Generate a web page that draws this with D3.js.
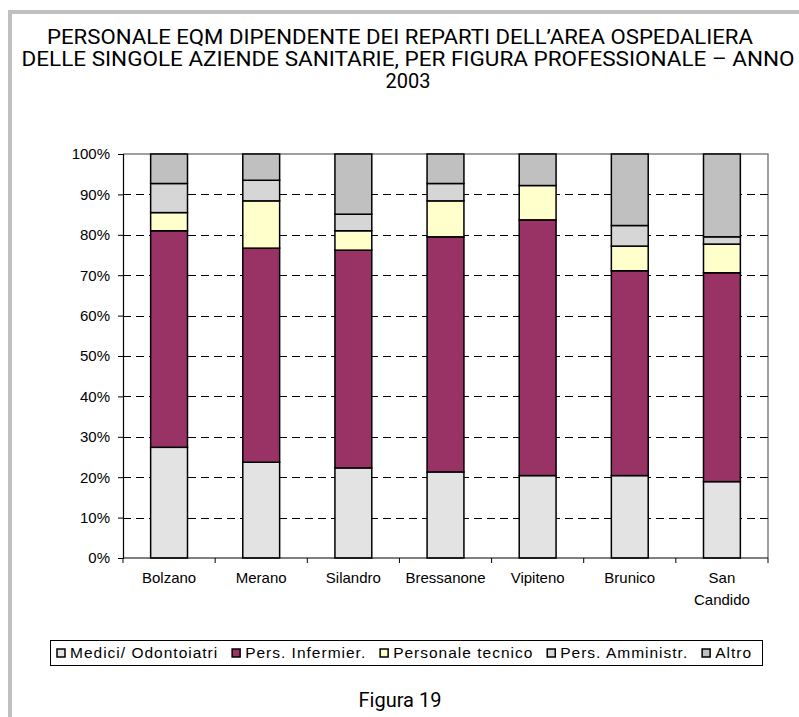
<!DOCTYPE html>
<html>
<head>
<meta charset="utf-8">
<script src="https://cdn.jsdelivr.net/npm/d3@7"></script>
<style>
body { margin: 0; background: #fff; }
svg { display: block; }
.tick-label { font-family: "Liberation Sans", Arial, sans-serif; font-size: 15px; fill: #000; }
.legend-label { font-family: "Liberation Sans", Arial, sans-serif; font-size: 15.5px; letter-spacing: 1px; fill: #000; }
.title { font-family: Roboto, "Liberation Sans", sans-serif; font-size: 20px; fill: #000; }
</style>
</head>
<body>
<svg id="chart" width="799" height="717"></svg>
<script>
// categories and series (share of total, %)
const aziende = ["Bolzano", "Merano", "Silandro", "Bressanone", "Vipiteno", "Brunico", "San Candido"];
const figure = ["Medici/ Odontoiatri", "Pers. Infermier.", "Personale tecnico", "Pers. Amministr.", "Altro"];
const medici      = [27.4, 23.7, 22.3, 21.3, 20.4, 20.4, 18.9];
const infermieri  = [53.6, 53.0, 53.9, 58.2, 63.3, 50.7, 51.7];
const tecnici     = [4.5, 11.7, 4.8, 8.9, 8.5, 6.1, 7.1];
const amministr   = [7.2, 5.1, 4.1, 4.3, 0.0, 5.1, 1.8];
const altro       = [7.3, 6.5, 14.9, 7.3, 7.8, 17.7, 20.5];
const yTicks = [0, 0.1, 0.2, 0.3, 0.4, 0.5, 0.6, 0.7, 0.8, 0.9, 1];
const colori = ["#e3e3e3", "#993366", "#ffffcc", "#d6d6d6", "#c0c0c0"];

const series = [medici, infermieri, tecnici, amministr, altro];
const rows = aziende.map((a, i) => {
  const r = { azienda: a };
  const tot = d3.sum(series, s => s[i]);
  figure.forEach((f, k) => r[f] = series[k][i] / tot);
  return r;
});

const svg = d3.select("#chart");

// outer frame (grey band top and left)
svg.append("rect").attr("x", 8).attr("y", 10).attr("width", 800).attr("height", 4).attr("fill", "#c0c0c0");
svg.append("rect").attr("x", 8).attr("y", 10).attr("width", 4).attr("height", 720).attr("fill", "#c0c0c0");

// title
const titolo = [
  ["PERSONALE EQM DIPENDENTE DEI REPARTI DELL\u2019AREA OSPEDALIERA", 400, 44, 706],
  ["DELLE SINGOLE AZIENDE SANITARIE, PER FIGURA PROFESSIONALE \u2013 ANNO", 408, 66, 773],
  ["2003", 408, 88, 0]
];
titolo.forEach(t => {
  const el = svg.append("text").attr("class", "title")
    .attr("x", t[1]).attr("y", t[2]).attr("text-anchor", "middle").text(t[0]);
  if (t[3]) el.attr("textLength", t[3]).attr("lengthAdjust", "spacingAndGlyphs");
});

const pLeft = 123, pRight = 768, pTop = 154, pBottom = 558;

const x = d3.scaleBand().domain(aziende).range([pLeft, pRight]).paddingInner(0.6).paddingOuter(0.3);
const y = d3.scaleLinear().domain([0, 1]).range([pBottom, pTop]);

// plot border (top and right)
svg.append("path")
  .attr("d", `M${pLeft},${pTop}H${pRight}V${pBottom}`)
  .attr("fill", "none").attr("stroke", "#808080").attr("stroke-width", 1.5);

// gridlines
svg.append("g").selectAll("line")
  .data(yTicks.filter(v => v > 0 && v < 1))
  .join("line")
  .attr("x1", pLeft).attr("x2", pRight)
  .attr("y1", d => Math.round(y(d)) + 0.5).attr("y2", d => Math.round(y(d)) + 0.5)
  .attr("stroke", "#000").attr("stroke-dasharray", "8,5");

// stacked bars
const stack = d3.stack().keys(figure)(rows);
const color = d3.scaleOrdinal().domain(figure).range(colori);

svg.append("g").selectAll("g")
  .data(stack)
  .join("g")
  .attr("fill", d => color(d.key))
  .selectAll("rect")
  .data(d => d)
  .join("rect")
  .attr("x", d => x(d.data.azienda))
  .attr("width", x.bandwidth())
  .attr("y", d => y(d[1]))
  .attr("height", d => y(d[0]) - y(d[1]))
  .attr("stroke", "#000")
  .attr("stroke-width", 1.5);

// y axis
const yAxis = d3.axisLeft(y).tickValues(yTicks).tickFormat(d3.format(".0%")).tickSize(5).tickPadding(8);
const gy = svg.append("g").attr("transform", `translate(${pLeft},0)`).call(yAxis);
gy.select(".domain").attr("stroke", "#000").attr("stroke-width", 1.2);
gy.selectAll(".tick line").attr("stroke", "#000");
gy.selectAll(".tick text").attr("class", "tick-label");
gy.attr("font-size", null).attr("font-family", null);

// x axis: baseline + tick marks at category boundaries
svg.append("line").attr("x1", pLeft).attr("x2", pRight).attr("y1", pBottom).attr("y2", pBottom)
  .attr("stroke", "#000").attr("stroke-width", 1.2);
svg.append("g").selectAll("line")
  .data(d3.range(aziende.length + 1))
  .join("line")
  .attr("x1", i => pLeft + i * x.step()).attr("x2", i => pLeft + i * x.step())
  .attr("y1", pBottom).attr("y2", pBottom + 5)
  .attr("stroke", "#000");

svg.append("g").selectAll("text")
  .data(aziende)
  .join("text")
  .attr("class", "tick-label")
  .attr("text-anchor", "middle")
  .attr("x", d => x(d) + x.bandwidth() / 2)
  .attr("y", 583)
  .each(function (d) {
    const parts = d.split(" ");
    const t = d3.select(this);
    if (parts.length > 1) {
      parts.forEach((p, k) => t.append("tspan").attr("x", x(d) + x.bandwidth() / 2).attr("dy", k ? 22 : 0).text(p));
    } else {
      t.text(d);
    }
  });

// legend: entries laid out in a row, spread to fill the box
const legBox = { x: 50, y: 640, w: 712, h: 25 };
svg.append("rect").attr("x", legBox.x + 0.5).attr("y", legBox.y + 0.5).attr("width", legBox.w).attr("height", legBox.h)
  .attr("fill", "#fff").attr("stroke", "#000");
const leg = svg.append("g").selectAll("g")
  .data(figure)
  .join("g");
leg.append("rect").attr("y", 9).attr("width", 8).attr("height", 8)
  .attr("fill", d => color(d)).attr("stroke", "#000").attr("stroke-width", 1.5);
leg.append("text").attr("class", "legend-label")
  .attr("x", 13).attr("y", 18)
  .text(d => d);
const widths = [];
leg.each(function () { widths.push(13 + d3.select(this).select("text").node().getComputedTextLength()); });
const startX = legBox.x + 7, endX = legBox.x + legBox.w - 10;
const gap = (endX - startX - d3.sum(widths)) / (widths.length - 1);
let cx = startX;
leg.attr("transform", (d, i) => { const t = `translate(${cx},${legBox.y})`; cx += widths[i] + gap; return t; });

// caption
svg.append("text").attr("class", "title")
  .attr("x", 400).attr("y", 707).attr("text-anchor", "middle")
  .text("Figura 19");
</script>
</body>
</html>
